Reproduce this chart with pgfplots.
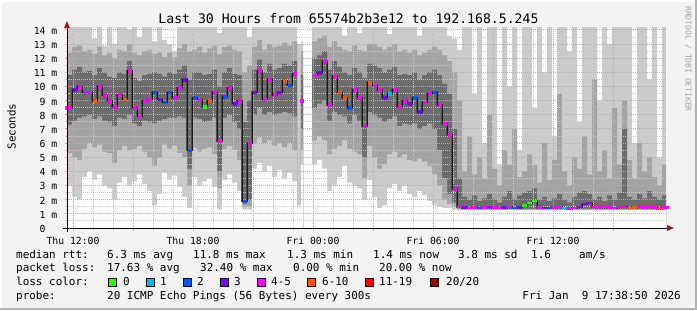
\documentclass[border=0pt]{standalone}
\usepackage{fontspec}
\setmainfont{DejaVu Sans Mono}
\usepackage{pgfplots}
\pgfplotsset{compat=1.18}
\usepackage{pgfplotstable}

\definecolor{bgc}{HTML}{F3F3F3}
\definecolor{Lone}{HTML}{CBCBCB}
\definecolor{Ltwo}{HTML}{A4A4A4}
\definecolor{Lthree}{HTML}{6C6C6C}
\definecolor{Lcore}{HTML}{4E4E4E}
\definecolor{mgrid}{HTML}{E29A9A}
\definecolor{ngrid}{HTML}{C8C8C8}
\definecolor{arr}{HTML}{9A2020}
\definecolor{lg}{HTML}{26FF00}
\definecolor{lc}{HTML}{00B8FF}
\definecolor{lb}{HTML}{0059FF}
\definecolor{lv}{HTML}{7E00FF}
\definecolor{lm}{HTML}{FF00FF}
\definecolor{lo}{HTML}{FF5500}
\definecolor{lr}{HTML}{FF0000}
\definecolor{ld}{HTML}{A10000}

\newcommand\titlefont{\fontsize{13.2}{15}\selectfont}
\newcommand\lfont{\fontsize{11}{13}\selectfont}
\newcommand\tfont{\fontsize{9.8}{11}\selectfont}
\newcommand\sfont{\fontsize{8}{9}\selectfont}

\pgfplotstableread{
x b0 b1 b2 m t2 t1 t0 c
11.700 3.0 5.3 7.3 8.5 10.8 12.4 14.2 m
11.825 3.0 5.3 7.3 8.5 10.8 12.4 14.2 m
12.075 2.2 5.0 7.6 9.8 11.2 12.8 14.2 v
12.325 2.0 4.8 7.8 10.0 11.4 12.9 14.2 m
12.575 3.6 5.6 7.9 9.6 11.0 12.5 14.2 m
12.825 4.0 6.0 8.0 9.6 11.1 12.6 14.2 m
13.075 3.4 5.7 7.7 9.0 10.8 12.3 13.4 o
13.325 3.8 5.9 7.9 10.0 11.3 12.8 14.2 m
13.575 3.0 5.4 7.6 9.4 11.0 12.2 12.9 m
13.825 2.8 5.3 7.5 9.0 10.7 12.4 14.2 m
14.075 2.0 4.6 7.2 8.6 10.6 12.0 13.0 m
14.325 3.2 5.5 7.8 9.4 11.0 12.6 14.2 m
14.575 3.6 5.8 7.7 9.1 10.9 12.5 14.2 o
14.825 3.0 5.5 8.0 11.1 11.8 13.0 14.0 m
15.075 3.3 5.6 7.4 8.5 10.6 12.4 14.2 m
15.325 3.8 5.8 7.2 7.9 10.4 12.2 13.5 m
15.575 3.1 5.4 7.6 9.0 10.8 12.5 14.2 m
15.825 2.6 5.0 7.5 9.1 10.9 12.6 14.2 m
16.075 1.6 4.4 7.4 9.6 11.0 12.3 13.2 b
16.325 2.4 5.0 7.6 9.1 10.9 12.4 14.2 v
16.575 3.9 5.9 7.7 8.9 10.7 12.1 13.3 b
16.825 3.4 5.6 7.8 9.6 11.0 12.4 13.0 b
17.075 3.7 5.8 7.8 9.2 10.9 12.1 12.5 m
17.325 2.9 5.3 7.9 9.9 11.2 12.7 14.2 m
17.575 2.2 5.0 7.8 10.5 11.5 13.0 14.2 v
17.825 1.4 3.0 4.2 5.5 10.5 12.5 14.2 b
18.075 3.6 5.7 7.8 9.2 11.0 12.6 14.2 b
18.325 3.0 5.4 7.7 9.1 11.0 12.8 14.2 m
18.575 3.3 5.6 7.5 8.6 10.8 12.4 14.2 g
18.825 3.5 5.7 7.6 9.0 10.9 12.7 14.2 o
19.075 2.9 5.2 7.8 9.6 11.2 12.9 14.2 m
19.325 1.3 2.8 4.0 6.2 10.0 12.3 13.8 m
19.575 3.4 5.6 7.8 9.3 11.0 12.8 14.2 b
19.825 3.8 5.8 8.0 9.9 11.3 12.9 14.2 m
20.075 3.2 5.5 7.5 8.8 10.9 12.6 14.2 v
20.325 2.6 4.8 7.0 9.0 10.8 12.5 14.2 m
20.575 1.3 1.5 1.7 1.9 7.5 11.0 14.2 b
20.825 1.3 1.5 2.0 6.0 9.0 11.5 13.5 m
21.075 4.2 6.0 8.0 9.6 11.2 12.8 14.2 v
21.325 4.6 6.4 8.5 11.1 11.9 13.3 14.2 m
21.575 4.0 6.0 8.0 9.1 11.0 12.6 14.2 m
21.825 4.4 6.2 8.2 10.5 11.6 13.0 14.2 m
22.075 3.6 5.8 8.0 9.4 11.2 12.8 14.2 m
22.325 4.1 6.0 8.1 9.6 11.3 12.9 14.2 v
22.575 3.5 5.7 8.2 10.4 11.6 13.1 14.2 o
22.825 3.9 6.0 8.1 10.1 11.5 12.9 14.2 b
23.075 3.3 5.5 7.9 10.9 11.8 13.2 14.2 m
23.325 1.6 1.6 1.6 nan 1.6 1.6 13.0 m
23.450 4.5 5.5 7.0 9.0 10.8 12.5 13.2 m
23.550 0 0 0 nan 0 0 0 m
23.825 0 0 0 nan 0 0 0 m
24.075 4.5 6.2 8.5 10.8 12.0 13.2 14.2 m
24.325 4.8 6.5 8.8 11.0 12.2 13.4 14.2 v
24.575 4.2 6.2 9.0 11.8 12.5 13.6 14.2 m
24.825 2.6 5.2 7.6 8.7 11.2 12.8 14.2 m
25.075 3.0 5.6 8.2 10.7 11.8 13.2 14.2 m
25.325 3.6 5.8 8.0 9.6 11.4 12.8 14.2 o
25.575 4.4 6.2 7.9 9.2 11.0 12.6 13.6 o
25.825 3.2 5.6 7.4 8.5 10.8 12.5 14.2 b
26.075 3.0 5.4 8.0 9.8 11.3 12.9 14.2 m
26.325 2.8 5.2 7.6 9.2 11.0 12.6 13.8 m
26.575 2.0 3.5 5.0 7.2 10.6 12.5 14.2 m
26.825 3.4 5.8 8.2 10.3 11.6 13.0 14.2 o
27.075 2.2 5.0 8.0 10.1 11.5 13.0 14.2 m
27.325 1.4 4.2 7.8 9.8 11.3 12.8 14.2 m
27.575 1.6 4.5 7.5 9.2 11.0 12.6 14.2 v
27.825 2.8 5.2 7.7 9.5 11.2 12.8 13.7 c
28.075 3.1 5.4 7.9 9.8 11.4 13.0 14.2 m
28.325 2.6 5.0 7.2 8.6 10.8 12.5 14.2 m
28.575 3.0 5.2 7.4 9.0 10.9 12.6 14.2 m
28.825 2.4 4.8 7.3 8.8 10.8 12.4 14.2 v
29.075 2.2 4.7 7.4 9.2 11.0 12.6 14.2 b
29.325 2.6 4.9 7.0 8.2 10.5 12.2 13.6 v
29.575 2.3 4.7 7.2 8.9 10.8 12.4 14.2 m
29.825 1.9 4.4 7.4 9.5 11.0 12.6 14.2 m
30.075 1.6 3.8 7.0 9.6 11.2 12.8 14.2 b
30.325 1.5 3.0 5.5 8.7 10.8 12.6 14.2 m
30.575 1.4 2.0 3.5 7.4 10.2 12.2 14.2 m
30.825 1.4 1.7 2.4 6.6 9.5 11.8 13.6 m
31.075 1.3 1.5 1.8 2.8 7.0 11.0 13.4 m
31.325 1.25 1.3 1.4 1.5 3.5 9.0 12.6 m
31.575 1.25 1.3 1.35 1.45 2.2 4.0 14.2 v
31.825 1.25 1.3 1.35 1.40 2.0 6.5 14.2 m
32.075 1.25 1.3 1.35 1.45 2.3 3.8 9.5 m
32.325 1.25 1.3 1.35 1.40 1.9 5.0 14.2 b
32.575 1.25 1.3 1.35 1.45 2.1 3.5 6.0 m
32.825 1.25 1.3 1.35 1.50 2.4 8.0 14.2 v
33.075 1.25 1.3 1.35 1.45 2.0 4.2 14.2 m
33.325 1.25 1.3 1.35 1.40 1.8 3.0 4.5 m
33.575 1.25 1.3 1.35 1.45 2.2 5.5 14.2 v
33.825 1.25 1.3 1.35 1.50 2.6 4.5 10.0 m
34.075 1.25 1.3 1.35 1.40 2.0 7.0 14.2 b
34.325 1.25 1.3 1.35 1.45 2.3 3.6 5.5 v
34.575 1.25 1.3 1.35 1.60 2.5 4.0 14.2 g
34.825 1.25 1.3 1.35 1.75 2.6 5.2 14.2 g
35.075 1.25 1.3 1.35 1.90 2.8 4.5 8.5 g
35.325 1.25 1.3 1.35 1.45 2.0 3.2 14.2 m
35.575 1.25 1.3 1.35 1.40 2.2 6.0 11.0 v
35.825 1.25 1.3 1.35 1.40 1.9 3.4 14.2 b
36.075 1.25 1.3 1.35 1.45 2.1 4.8 6.5 m
36.325 1.25 1.3 1.35 1.50 2.4 9.5 14.2 m
36.575 1.25 1.3 1.35 1.40 2.0 4.0 14.2 c
36.825 1.25 1.3 1.35 1.35 1.8 3.0 12.5 m
37.075 1.25 1.3 1.35 1.40 2.2 5.0 14.2 m
37.325 1.25 1.3 1.35 1.50 2.5 4.2 7.5 v
37.575 1.25 1.3 1.35 1.70 2.6 6.5 14.2 v
37.825 1.25 1.3 1.35 1.75 2.4 3.8 14.2 v
38.075 1.25 1.3 1.35 1.50 2.0 10.5 14.2 m
38.325 1.25 1.3 1.35 1.45 2.2 4.0 9.0 m
38.575 1.25 1.3 1.35 1.50 1.9 5.5 14.2 m
38.825 1.25 1.3 1.35 1.45 2.3 3.5 13.0 m
39.075 1.25 1.3 1.35 1.40 2.0 8.5 14.2 m
39.325 1.25 1.3 1.35 1.50 2.5 4.5 14.2 m
39.575 1.25 1.3 1.35 1.50 7.0 9.0 14.2 m
39.825 1.25 1.3 1.35 1.40 2.2 4.8 14.2 o
40.075 1.25 1.3 1.35 1.45 2.0 3.5 6.0 o
40.325 1.25 1.3 1.35 1.50 2.4 6.0 14.2 m
40.575 1.25 1.3 1.35 1.45 2.1 4.0 14.2 m
40.825 1.25 1.3 1.35 1.50 2.6 5.0 10.5 m
41.075 1.25 1.3 1.35 1.45 2.2 3.6 14.2 m
41.325 1.25 1.3 1.35 1.35 2.0 3.0 5.0 o
41.575 1.25 1.3 1.35 1.45 2.3 4.5 14.2 m
41.650 1.25 1.3 1.35 1.45 2.3 4.5 14.2 m
}\smoke

\pgfplotsset{
  rrdframe/.style={at={(67bp,82bp)}, anchor=south west, scale only axis,
    width=600bp, height=200bp,
    xmin=11.7, xmax=41.7, ymin=0, ymax=14.14, unbounded coords=jump},
  lossclasses/.style={scatter, only marks, point meta=explicit symbolic,
    scatter/classes={g={lg},c={lc},b={lb},v={lv},m={lm},o={lo}}},
}

\begin{document}
\begin{tikzpicture}
\begin{scope}[x=1bp,y=1bp]
\fill[bgc] (0,0) rectangle (697,310);
\fill[white] (0,308) rectangle (697,310);
\fill[white] (0,0) rectangle (2,310);
\fill[black!30] (695,0) rectangle (697,310);
\fill[black!30] (0,0) rectangle (697,2);
\fill[white] (67,82) rectangle (667,282);
\end{scope}

\begin{axis}[rrdframe,
  axis line style={draw=none},
  axis on top,
  xtick={12,15,...,39},
  xticklabels={Thu 12:00,,Thu 18:00,,Fri 00:00,,Fri 06:00,,Fri 12:00,},
  minor x tick num=2,
  ytick={0,1,...,14},
  yticklabels={0\phantom{\ m},1 m,2 m,3 m,4 m,5 m,6 m,7 m,8 m,9 m,10 m,11 m,12 m,13 m,14 m},
  minor y tick num=1,
  grid=both,
  major grid style={mgrid, line width=1bp, dash pattern=on 1bp off 1bp},
  minor grid style={ngrid, line width=1bp, dash pattern=on 1bp off 1bp},
  xtick pos=bottom, ytick pos=left,
  tick align=center,
  major tick length=5bp, minor tick length=3bp,
  tick style={mgrid, line width=1bp},
  xticklabel style={font=\tfont, anchor=base, inner sep=0pt, yshift=-13.5bp},
  yticklabel style={font=\tfont, anchor=base east, inner sep=0pt, xshift=-7bp, yshift=-4.3bp},
]
\addplot[draw=none, fill=Lone, const plot mark mid] table[x=x,y=t0]{\smoke} \closedcycle;
\addplot[draw=none, fill=Ltwo, const plot mark mid] table[x=x,y=t1]{\smoke} \closedcycle;
\addplot[draw=none, fill=Lthree, const plot mark mid] table[x=x,y=t2]{\smoke} \closedcycle;
\addplot[draw=none, fill=Ltwo, const plot mark mid] table[x=x,y=b2]{\smoke} \closedcycle;
\addplot[draw=none, fill=Lone, const plot mark mid] table[x=x,y=b1]{\smoke} \closedcycle;
\addplot[draw=none, fill=white, const plot mark mid] table[x=x,y=b0]{\smoke} \closedcycle;
\end{axis}

\begin{axis}[rrdframe, hide axis]
\addplot[const plot mark mid, color=Lcore, line width=2.4bp] table[x=x,y=m]{\smoke};
\addplot[const plot mark mid, color=black!90, line width=1bp] table[x=x,y=m]{\smoke};
\addplot[lossclasses, mark=square*, mark size=1.4bp,
  restrict x to domain=11:31.2] table[x=x,y=m,meta=c]{\smoke};
\addplot[lossclasses, mark=-, mark size=2.6bp, mark options={line width=2.4bp},
  restrict x to domain=31.2:42] table[x=x,y=m,meta=c]{\smoke};
\end{axis}

\begin{scope}[x=1bp,y=1bp]
\draw[black, line width=1bp] (63,82) -- (669,82);
\fill[arr] (667,79) -- (674,82) -- (667,85) -- cycle;
\draw[black, line width=1bp] (67,78) -- (67,284);
\fill[arr] (64,282) -- (67,289) -- (70,282) -- cycle;

\node[anchor=base, inner sep=0pt, font=\titlefont] at (348.5,286.7) {Last 30 Hours from 65574b2b3e12 to 192.168.5.245};
\node[rotate=90, anchor=base, inner sep=0pt, font=\lfont] at (15.5,183.5) {Seconds};
\node[rotate=-90, anchor=base, inner sep=0pt, font=\sfont, text=black!35] at (685.5,251) {RRDTOOL / TOBI OETIKER};

\begin{scope}[every node/.style={anchor=base west, inner sep=0pt, font=\lfont}]
\node at (16,52) {median rtt:};
\node at (107,52) {6.3 ms avg};
\node at (193,52) {11.8 ms max};
\node at (287,52) {1.3 ms min};
\node at (373,52) {1.4 ms now};
\node at (458,52) {3.8 ms sd};
\node at (531,52) {1.6};
\node at (579,52) {am/s};

\node at (16,38.3) {packet loss:};
\node at (107,38.3) {17.63 \% avg};
\node at (200,38.3) {32.40 \% max};
\node at (293,38.3) {0.00 \% min};
\node at (379,38.3) {20.00 \% now};

\node at (16,24.3) {loss color:};
\node at (123,24.3) {0};
\node at (160,24.3) {1};
\node at (197,24.3) {2};
\node at (234,24.3) {3};
\node at (271,24.3) {4-5};
\node at (322,24.3) {6-10};
\node at (379,24.3) {11-19};
\node at (446,24.3) {20/20};

\node at (16,10.3) {probe:};
\node at (107,10.3) {20 ICMP Echo Pings (56 Bytes) every 300s};
\node[anchor=base east] at (681,10.3) {Fri Jan\ \ 9 17:38:50 2026};
\end{scope}

\foreach \bx/\bc in {108/lg,146/lc,183/lb,220/lv,257/lm,307/lo,365/lr,430/ld}{
  \filldraw[fill=\bc, draw=black, line width=0.8bp] (\bx+0.5,23.8) rectangle ++(7.5,7.5);
}
\end{scope}
\end{tikzpicture}
\end{document}
